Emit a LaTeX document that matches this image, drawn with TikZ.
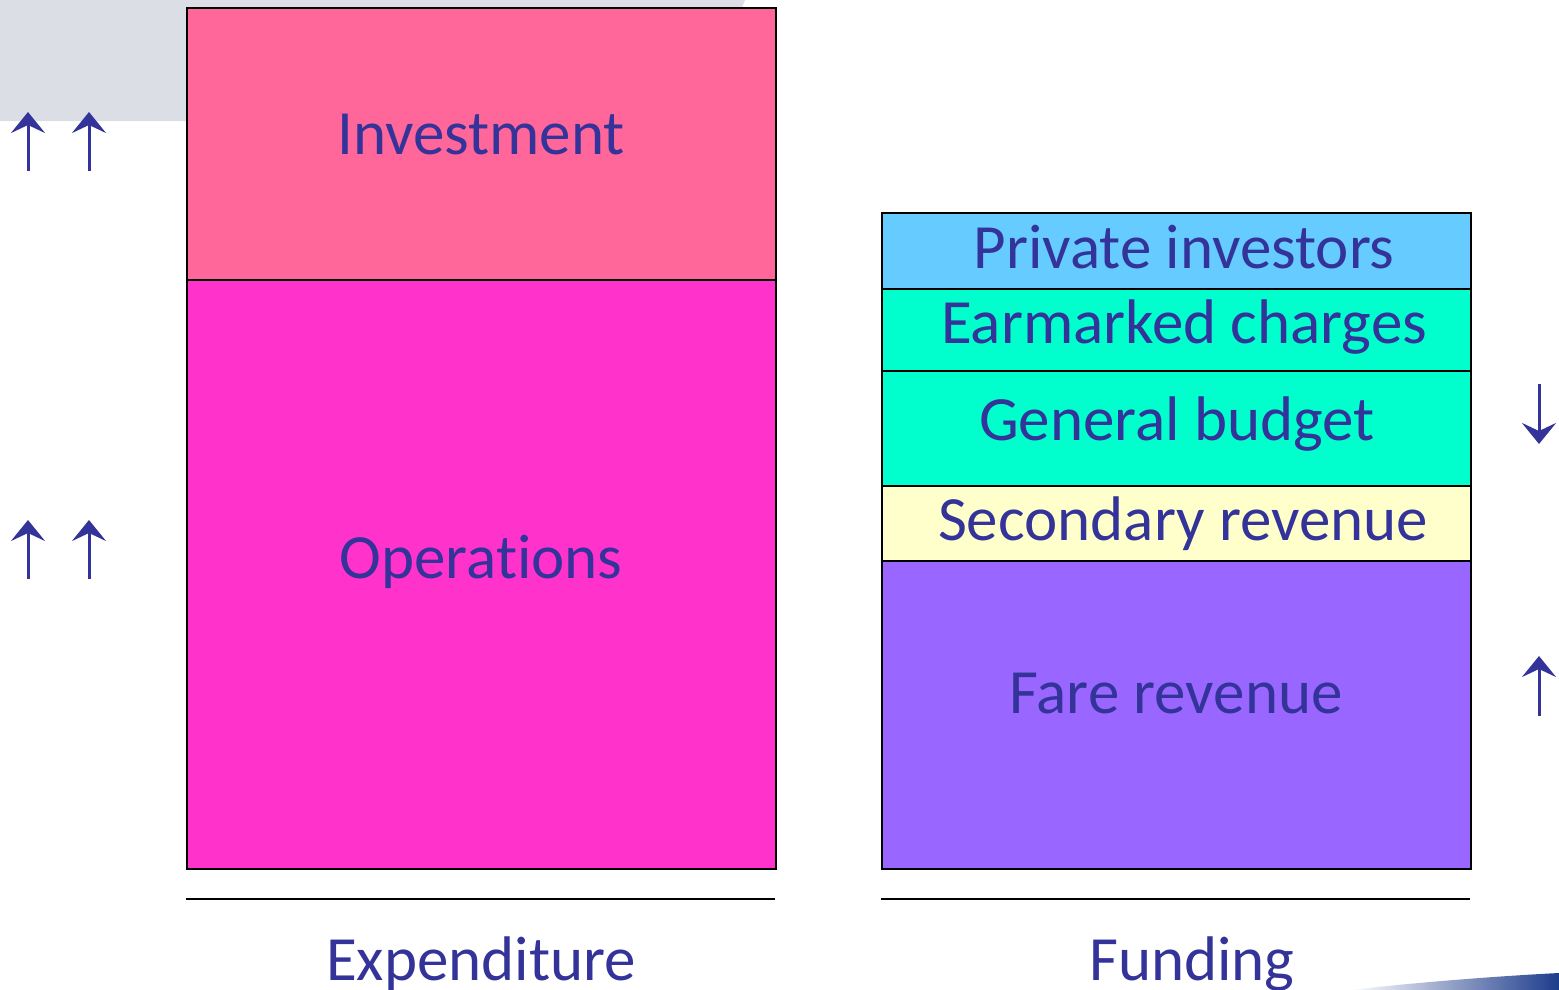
\documentclass[tikz,border=0pt]{standalone}
\usepackage{fontspec}
\setmainfont{Carlito}[Ligatures={NoCommon,NoDiscretionary,NoRare}]
\usetikzlibrary{arrows.meta}
\definecolor{ink}{HTML}{333399}
\definecolor{haze}{HTML}{DCDEE6}
\definecolor{invest}{HTML}{FF6699}
\definecolor{ops}{HTML}{FF33CC}
\definecolor{priv}{HTML}{66CCFF}
\definecolor{mint}{HTML}{00FFCC}
\definecolor{cream}{HTML}{FFFFCC}
\definecolor{fare}{HTML}{9966FF}
\definecolor{swoosh}{HTML}{1E3C8C}
\tikzset{
  bar/.style={draw=black, line width=1.6pt, inner sep=0pt, anchor=north west},
  lbl/.style={text=ink, anchor=base, inner sep=0pt, font=\fontsize{63}{70}\selectfont},
  trend/.style={draw=ink, line width=3pt, -{Stealth[length=21pt,width=34pt,inset=8pt]}},
  rule/.style={draw=black, line width=1.6pt}
}
\begin{document}
\begin{tikzpicture}[x=1pt,y=-1pt]
\useasboundingbox (0,0) rectangle (1559,990);
% backdrop shapes
\fill[haze] (0,0) -- (745,0) -- (700,121) -- (0,121) -- cycle;
\shade[left color=white, right color=swoosh] (1350,990) .. controls (1420,982) and (1500,976) .. (1559,973) -- (1559,990) -- cycle;

% expenditure column
\node[bar, fill=invest, minimum width=589pt, minimum height=272pt] (inv) at (186,7) {};
\node[bar, fill=ops, minimum width=589pt, minimum height=589pt] (ops) at (186,279) {};
% funding column
\node[bar, fill=priv, minimum width=589pt, minimum height=76pt] (pri) at (881,212) {};
\node[bar, fill=mint, minimum width=589pt, minimum height=82pt] (ear) at (881,288) {};
\node[bar, fill=mint, minimum width=589pt, minimum height=115pt] (gen) at (881,370) {};
\node[bar, fill=cream, minimum width=589pt, minimum height=75pt] (sec) at (881,485) {};
\node[bar, fill=fare, minimum width=589pt, minimum height=308pt] (far) at (881,560) {};

\node[lbl] (tinv) at (481,154) {Investment};
\node[lbl] (tops) at (481,578) {Operat\kern0pt ions};
\node[lbl] (tpri) at (1184,268) {Private investors};
\node[lbl] (tear) at (1184,343) {Earmarked charges};
\node[lbl] (tgen) at (1177,440) {General budget};
\node[lbl] (tsec) at (1183,540) {Secondary revenue};
\node[lbl] (tfar) at (1176,713) {Fare revenue};

% baselines and captions
\coordinate (e1) at (186,899); \coordinate (e2) at (775,899);
\coordinate (f1) at (881,899); \coordinate (f2) at (1470,899);
\draw[rule] (e1) -- (e2);
\draw[rule] (f1) -- (f2);
\node[lbl] (cexp) at (481,980) {Expenditure};
\node[lbl] (cfun) at (1192,980) {Funding};

% trend arrows
\coordinate (a1s) at (28,171); \coordinate (a1e) at (28,112);
\coordinate (a2s) at (89,171); \coordinate (a2e) at (89,112);
\coordinate (a3s) at (28,579); \coordinate (a3e) at (28,520);
\coordinate (a4s) at (89,579); \coordinate (a4e) at (89,520);
\coordinate (a5s) at (1539,384); \coordinate (a5e) at (1539,444);
\coordinate (a6s) at (1539,716); \coordinate (a6e) at (1539,656);
\draw[trend] (a1s) -- (a1e);
\draw[trend] (a2s) -- (a2e);
\draw[trend] (a3s) -- (a3e);
\draw[trend] (a4s) -- (a4e);
\draw[trend] (a5s) -- (a5e);
\draw[trend] (a6s) -- (a6e);
\end{tikzpicture}
\end{document}
